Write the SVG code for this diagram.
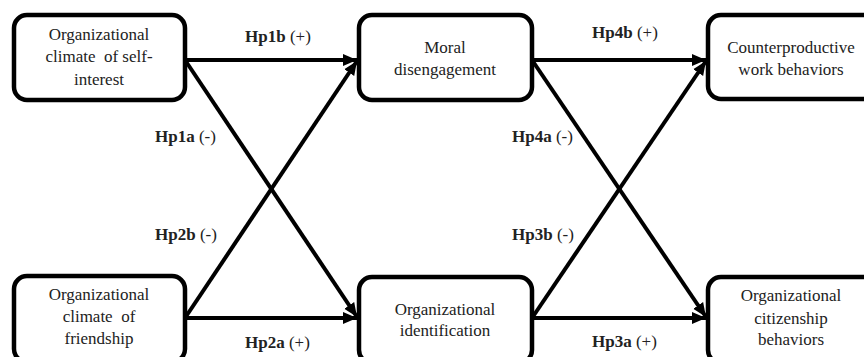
<svg xmlns="http://www.w3.org/2000/svg" width="864" height="357" viewBox="0 0 864 357">
<defs>
<style>
.box{fill:#fff;stroke:#000;stroke-width:4.5}
.t{font-family:"Liberation Serif","DejaVu Serif",serif;font-size:17px;fill:#222;text-anchor:middle}
.l{font-family:"Liberation Serif","DejaVu Serif",serif;font-size:17px;fill:#222}
.b{font-weight:bold}
.c line{stroke:#000;stroke-width:4}
</style>
<marker id="ah" markerUnits="userSpaceOnUse" markerWidth="16" markerHeight="14" refX="14" refY="7" orient="auto">
<path d="M0,1 L14,7 L0,13 Z" fill="#000"/>
</marker>
</defs>
<rect width="864" height="357" fill="#fff"/>
<g class="c">
<line x1="185" y1="60" x2="357" y2="60" marker-end="url(#ah)"/>
<line x1="185" y1="60" x2="357" y2="317" marker-end="url(#ah)"/>
<line x1="185" y1="318" x2="357" y2="318" marker-end="url(#ah)"/>
<line x1="185" y1="318" x2="357" y2="61" marker-end="url(#ah)"/>
<line x1="532" y1="60" x2="706" y2="60" marker-end="url(#ah)"/>
<line x1="532" y1="60" x2="706" y2="317" marker-end="url(#ah)"/>
<line x1="532" y1="318" x2="706" y2="318" marker-end="url(#ah)"/>
<line x1="532" y1="318" x2="706" y2="61" marker-end="url(#ah)"/>
</g>
<g id="n1"><rect class="box" x="14" y="15" width="171" height="85" rx="13"/>
<text class="t" x="99" y="40">Organizational</text><text class="t" x="99" y="62" xml:space="preserve">climate  of self-</text><text class="t" x="99" y="85">interest</text></g>
<g id="n2"><rect class="box" x="359" y="15" width="173" height="85" rx="13"/>
<text class="t" x="445" y="53">Moral</text><text class="t" x="445" y="75">disengagement</text></g>
<g id="n3"><rect class="box" x="708" y="15" width="173" height="84" rx="13"/>
<text class="t" x="791" y="53">Counterproductive</text><text class="t" x="791" y="75">work behaviors</text></g>
<g id="n4"><rect class="box" x="14" y="276" width="171" height="86" rx="13"/>
<text class="t" x="99" y="300">Organizational</text><text class="t" x="99" y="322" xml:space="preserve">climate  of</text><text class="t" x="99" y="344">friendship</text></g>
<g id="n5"><rect class="box" x="359" y="277" width="173" height="86" rx="13"/>
<text class="t" x="445" y="315">Organizational</text><text class="t" x="445" y="336">identification</text></g>
<g id="n6"><rect class="box" x="708" y="277" width="173" height="86" rx="13"/>
<text class="t" x="791" y="301">Organizational</text><text class="t" x="791" y="324">citizenship</text><text class="t" x="791" y="345">behaviors</text></g>
<g id="labels">
<text class="l" x="245" y="42" xml:space="preserve"><tspan class="b">Hp1b</tspan> (+)</text>
<text class="l" x="592" y="38" xml:space="preserve"><tspan class="b">Hp4b</tspan> (+)</text>
<text class="l" x="155" y="142" xml:space="preserve"><tspan class="b">Hp1a</tspan> (-)</text>
<text class="l" x="155" y="240" xml:space="preserve"><tspan class="b">Hp2b</tspan> (-)</text>
<text class="l" x="512" y="142" xml:space="preserve"><tspan class="b">Hp4a</tspan> (-)</text>
<text class="l" x="512" y="240" xml:space="preserve"><tspan class="b">Hp3b</tspan> (-)</text>
<text class="l" x="245" y="348" xml:space="preserve"><tspan class="b">Hp2a</tspan> (+)</text>
<text class="l" x="592" y="347" xml:space="preserve"><tspan class="b">Hp3a</tspan> (+)</text>
</g>
</svg>
